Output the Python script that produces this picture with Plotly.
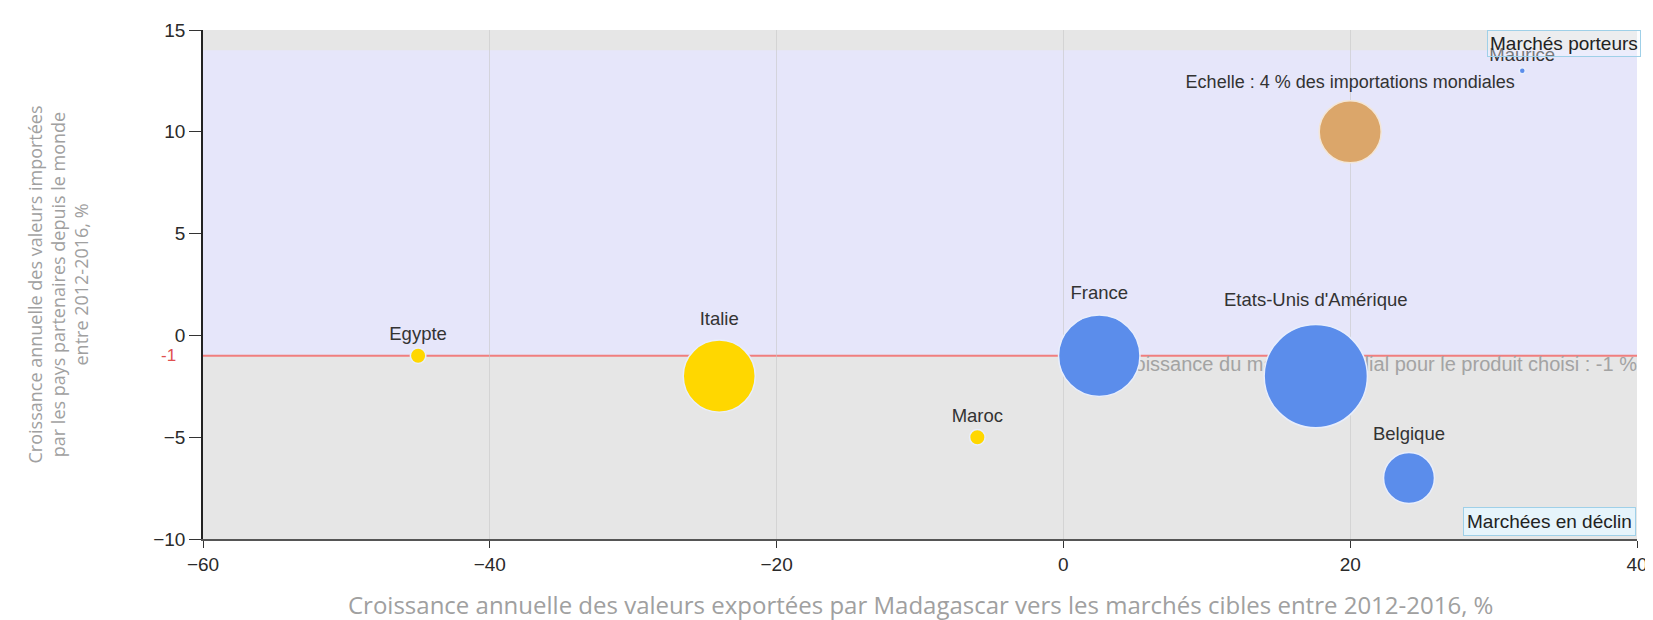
import plotly.graph_objects as go

# ---- data ----
countries = ["Egypte", "Italie", "Maroc", "France", "Etats-Unis d'Amérique", "Belgique", "Maurice"]
export_growth = [-45, -24, -6, 2.5, 17.6, 24.1, 32]      # x, %
import_growth = [-1, -2, -5, -1, -2, -7, 13]             # y, %
world_share = [0.25, 5.4, 0.25, 6.9, 11.1, 2.7, 0.03]    # bubble size, % of world imports
colors = ["#FFD700", "#FFD700", "#FFD700", "#5B8DEB", "#5B8DEB", "#5B8DEB", "#5B8DEB"]

scale_label = ["Echelle : 4 % des importations mondiales"]
scale_x = [20]
scale_y = [10]
scale_share = [4]

world_growth = -1
x_ticks = [-60, -40, -20, 0, 20, 40]
y_ticks = [-10, -5, 0, 5, 10, 15]
x_range = [-60, 40]
y_range = [-10, 15]
lavender_top = 14

line_text = "Croissance du marché mondial pour le produit choisi : -1 %"
x_title = "Croissance annuelle des valeurs exportées par Madagascar vers les marchés cibles entre 2012-2016, %"
y_title = ("Croissance annuelle des valeurs importées<br>par les pays partenaires depuis le monde"
           "<br>entre 2012-2016, %")

# bubble scale: 4 % -> ~62 px diameter
sizeref = 2 * scale_share[0] / (62 ** 2)

ML, MR, MT, MB = 195, 24, 15, 89
PW = 1653 - ML - MR
PH = 620 - MT - MB

fig = go.Figure()

# world growth line label (drawn below bubbles)
fig.add_trace(go.Scatter(
    x=[x_range[1]], y=[world_growth], mode="text", text=[line_text],
    textposition="bottom left",
    textfont=dict(family="Liberation Sans, Arial", size=20, color="#a3a3a3"),
    hoverinfo="skip", showlegend=False,
))

# scale bubble
fig.add_trace(go.Scatter(
    x=scale_x, y=scale_y, mode="markers+text", text=scale_label,
    textposition="top center",
    textfont=dict(family="Liberation Sans, Arial", size=18, color="#333333"),
    marker=dict(size=scale_share, sizemode="area", sizeref=sizeref, sizemin=3, opacity=1,
                color="#DBA66A", line=dict(color="#f3e6d6", width=1.5)),
    showlegend=False,
))

# country bubbles
fig.add_trace(go.Scatter(
    x=export_growth, y=import_growth, mode="markers+text", text=countries,
    textposition="top center",
    textfont=dict(family="Liberation Sans, Arial", size=18.5, color="#333333"),
    marker=dict(size=world_share, sizemode="area", sizeref=sizeref, sizemin=3, opacity=1,
                color=colors, line=dict(color="#e8eefc", width=1.5)),
    showlegend=False,
))

shapes = [
    dict(type="rect", xref="paper", yref="y", x0=0, x1=1, y0=world_growth, y1=lavender_top,
         fillcolor="#E6E6FA", line=dict(width=0), layer="below"),
    dict(type="line", xref="paper", yref="y", x0=0, x1=1, y0=world_growth, y1=world_growth,
         line=dict(color="#F07E7E", width=2), layer="below"),
]

annotations = [
    dict(text=y_title, xref="paper", yref="paper", x=-(ML - 50) / PW, y=0.5, textangle=-90,
         showarrow=False, xanchor="center", yanchor="middle",
         font=dict(family="Open Sans", size=18, color="#a0a0a0")),
    dict(text=x_title, xref="paper", yref="paper", x=0.5, y=-(597 - (620 - MB)) / PH,
         showarrow=False, xanchor="center", yanchor="middle",
         font=dict(family="Open Sans", size=24, color="#a0a0a0")),
    dict(text=str(world_growth), xref="paper", yref="y", x=-25 / PW, y=world_growth,
         showarrow=False, xanchor="right", yanchor="middle",
         font=dict(family="Liberation Sans, Arial", size=17, color="#e05050")),
    dict(text="Marchés porteurs", xref="paper", yref="paper", x=1 + 4 / PW, y=1.0,
         showarrow=False, xanchor="right", yanchor="top",
         bgcolor="rgba(245,250,255,0.35)", bordercolor="#9fd0e8", borderwidth=1, borderpad=2,
         font=dict(family="Liberation Sans, Arial", size=19, color="#222222")),
    dict(text="Marchées en déclin", xref="paper", yref="paper", x=0.999, y=0.005,
         showarrow=False, xanchor="right", yanchor="bottom",
         bgcolor="rgba(230,244,252,0.95)", bordercolor="#9fd0e8", borderwidth=1, borderpad=3,
         font=dict(family="Liberation Sans, Arial", size=19, color="#222222")),
]

fig.update_layout(
    width=1653, height=620,
    margin=dict(l=ML, r=MR, t=MT, b=MB),
    paper_bgcolor="white",
    plot_bgcolor="#E6E6E6",
    shapes=shapes,
    annotations=annotations,
    showlegend=False,
)
fig.update_xaxes(
    range=x_range, tickvals=x_ticks, ticks="outside", ticklen=7, tickcolor="#333333",
    showline=True, linecolor="#555555", linewidth=2, zeroline=False,
    showgrid=True, gridcolor="rgba(200,200,200,0.6)", gridwidth=1,
    tickfont=dict(family="Liberation Sans, Arial", size=19, color="#2a2a2a"),
)
fig.update_yaxes(
    range=y_range, tickvals=y_ticks, ticks="outside", ticklen=12, tickcolor="#333333",
    showline=True, linecolor="#222222", linewidth=1.5, zeroline=False,
    showgrid=False,
    tickfont=dict(family="Liberation Sans, Arial", size=19, color="#2a2a2a"),
)

fig.write_html("out.html")
